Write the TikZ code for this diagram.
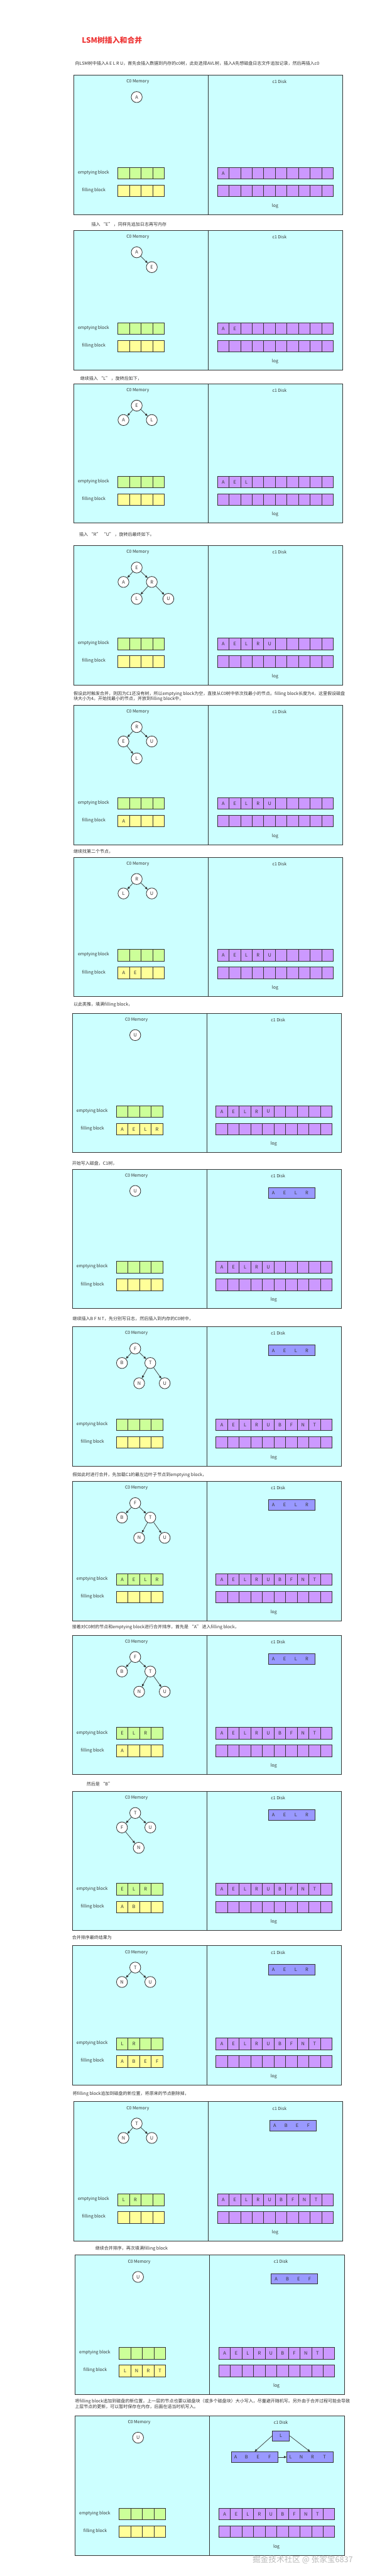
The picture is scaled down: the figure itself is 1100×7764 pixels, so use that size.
\documentclass[tikz,border=0pt]{standalone}
\usepackage{fontspec}
\setmainfont{Noto Sans CJK SC}
\usepackage{tikz}
\usetikzlibrary{arrows.meta,positioning}
\definecolor{panebg}{HTML}{CCFFFF}
\definecolor{emptyc}{HTML}{CCFF99}
\definecolor{fillc}{HTML}{FFFF99}
\definecolor{logc}{HTML}{CC99FF}
\definecolor{diskc}{HTML}{9999FF}
\definecolor{ink}{HTML}{333333}
\definecolor{titlered}{HTML}{EE3333}

% one C0/C1 snapshot: name, x, y, emptying, filling, log
\newcommand{\lsmpanel}[6]{%
  \begin{scope}[shift={(#2,#3)}]
    \node[pane] (#1mem) at (0,0) {};
    \node[pane] (#1disk) at (406,0) {};
    \node[lbl] (#1c0) at (194,20.7) {C0 Memory};
    \node[lbl] (#1c1) at (621.5,20.7) {c1 Disk};
    \node[lbl] (#1el) at (60.3,294.7) {emptying block};
    \node[lbl] (#1fl) at (61.3,347.8) {filling block};
    \node[lbl] (#1ll) at (608.3,394.6) {log};
    \foreach \i in {0,...,3} {
      \node[cell,fill=emptyc] (#1e\i) at (151.5+35*\i,296.6) {};
      \node[cell,fill=fillc] (#1f\i) at (151.5+35*\i,349.7) {};
    }
    \foreach \i in {0,...,9} {
      \node[cell,fill=logc] (#1la\i) at (451.8+35*\i,296.6) {};
      \node[cell,fill=logc] (#1lb\i) at (451.8+35*\i,349.7) {};
    }
    \foreach \ch [count=\i from 0] in {#4} \node[letter] at (#1e\i) {\ch};
    \foreach \ch [count=\i from 0] in {#5} \node[letter] at (#1f\i) {\ch};
    \foreach \ch [count=\i from 0] in {#6} \node[letter] at (#1la\i) {\ch};
  \end{scope}}

% run of four keys written to c1
\newcommand{\sstable}[4]{%
  \begin{scope}[shift={(#2,#3)}]
    \node[blk,minimum width=140pt] (#1) at (662.5,72.3) {};
    \foreach \ch [count=\i from 0] in {#4}
      \node[letter] at (607.5+33.7*\i,72.3) {\ch};
  \end{scope}}

\begin{document}
\begin{tikzpicture}[x=1pt,y=-1pt,
  pane/.style={draw=ink,fill=panebg,line width=1.8pt,anchor=north west,
               minimum width=406pt,minimum height=420pt,inner sep=0pt},
  lbl/.style={text=ink,font=\fontsize{13}{15}\selectfont,inner sep=0pt},
  cell/.style={draw=ink,line width=1.8pt,minimum width=35pt,minimum height=35pt,inner sep=0pt},
  letter/.style={text=ink,font=\fontsize{14}{14}\selectfont,inner sep=0pt},
  blk/.style={draw=ink,fill=diskc,line width=1.8pt,minimum height=32pt,inner sep=0pt},
  vtx/.style={circle,draw=ink,fill=white,line width=1.6pt,minimum size=33pt,
              inner sep=0pt,text=ink,font=\fontsize{14}{14}\selectfont},
  lkid/.style={shift={(-40,43.5)}},
  rkid/.style={shift={(45.5,43.5)}},
  arr/.style={-{Triangle[length=8pt,width=6.5pt]},line width=1.3pt,draw=ink},
  txt/.style={anchor=west,align=left,inner sep=0pt,text=ink,
              font=\fontsize{13.3}{16.2}\selectfont}
]
\fill[white] (0,0) rectangle (1100,7764);
\useasboundingbox (0,0) rectangle (1100,7764);

\node[anchor=west,inner sep=0pt,text=titlered,font=\fontsize{22.5}{24}\selectfont\bfseries] (title) at (247,122) {LSM树插入和合并};

\node[txt] (t1) at (226.6,190.7) {向LSM树中插入A E L R U，首先会插入数据到内存的c0树，此处选择AVL树，插入A先想磁盘日志文件追加记录，然后再插入c0};
\node[txt] (t2) at (275.7,676) {插入 “E” ，同样先追加日志再写内存};
\node[txt] (t3) at (242,1140.4) {继续插入 “L” ，旋转后如下，};
\node[txt] (t4) at (239,1610.4) {插入 “R” “U” ，旋转后最终如下。};
\node[txt] (t5) at (221.7,2099) {假设此时触发合并，则因为C1还没有树，所以emptying block为空，直接从C0树中依次找最小的节点。filling block长度为4，这里假设磁盘\\块大小为4。开始找最小的节点，并放到filling block中，};
\node[txt] (t6) at (221.7,2566) {继续找第二个节点，};
\node[txt] (t7) at (221.7,3027) {以此类推，填满filling block，};
\node[txt] (t8) at (217.5,3506.8) {开始写入磁盘，C1树，};
\node[txt] (t9) at (218.9,3974.7) {继续插入B F N T，先分别写日志，然后插入到内存的C0树中，};
\node[txt] (t10) at (218.9,4446) {假如此时进行合并，先加载C1的最左边叶子节点到emptying block，};
\node[txt] (t11) at (217.5,4905) {接着对C0树的节点和emptying block进行合并排序，首先是 “A” 进入filling block，};
\node[txt] (t12) at (261,5377.9) {然后是 “B”};
\node[txt] (t13) at (217.5,5839.6) {合并排序最终结果为};
\node[txt] (t14) at (218.9,6311.3) {将filling block追加到磁盘的新位置，将原来的节点删除掉，};
\node[txt] (t15) at (287.6,6778) {继续合并排序，再次填满filling block};
\node[txt] (t16) at (225.9,7245) {将filling block追加到磁盘的新位置，上一层的节点也要以磁盘块（或多个磁盘块）大小写入，尽量避开随机写。另外由于合并过程可能会导致\\上层节点的更新，可以暂时保存在内存，后面在适当时机写入。};

\lsmpanel{p1}{221.7}{226}{}{}{A}
\lsmpanel{p2}{221.7}{693.9}{}{}{A,E}
\lsmpanel{p3}{221.7}{1156}{}{}{A,E,L}
\lsmpanel{p4}{221.7}{1644}{}{}{A,E,L,R,U}
\lsmpanel{p5}{221.7}{2124.8}{}{A}{A,E,L,R,U}
\lsmpanel{p6}{221.7}{2582.8}{}{A,E}{A,E,L,R,U}
\lsmpanel{p7}{217.5}{3053.3}{}{A,E,L,R}{A,E,L,R,U}
\lsmpanel{p8}{217.5}{3523}{}{}{A,E,L,R,U}
\lsmpanel{p9}{217.5}{3998}{}{}{A,E,L,R,U,B,F,N,T}
\lsmpanel{p10}{217.5}{4463.9}{A,E,L,R}{}{A,E,L,R,U,B,F,N,T}
\lsmpanel{p11}{217.5}{4927.7}{E,L,R}{A}{A,E,L,R,U,B,F,N,T}
\lsmpanel{p12}{217.5}{5397.8}{E,L,R}{A,B}{A,E,L,R,U,B,F,N,T}
\lsmpanel{p13}{217.5}{5863.6}{L,R}{A,B,E,F}{A,E,L,R,U,B,F,N,T}
\lsmpanel{p14}{221.7}{6333.7}{L,R}{}{A,E,L,R,U,B,F,N,T}
\lsmpanel{p15}{225.9}{6796}{}{L,N,R,T}{A,E,L,R,U,B,F,N,T}
\lsmpanel{p16}{225.9}{7280.5}{}{}{A,E,L,R,U,B,F,N,T}

\sstable{p8s}{217.5}{3523}{A,E,L,R}
\sstable{p9s}{217.5}{3998}{A,E,L,R}
\sstable{p10s}{217.5}{4463.9}{A,E,L,R}
\sstable{p11s}{217.5}{4927.7}{A,E,L,R}
\sstable{p12s}{217.5}{5397.8}{A,E,L,R}
\sstable{p13s}{217.5}{5863.6}{A,E,L,R}
\sstable{p14s}{221.7}{6333.7}{A,B,E,F}
\sstable{p15s}{225.9}{6796}{A,B,E,F}

% C0 trees
\node[vtx] (a1) at (412.5,292.5) {A};

\node[vtx] (a2) at (412.5,760.4) {A};
\node[vtx,shift={(45.5,44.8)}] (e2) at (a2) {E};
\draw[arr] (a2) -- (e2);

\node[vtx] (e3) at (412.5,1222.5) {E};
\node[vtx,lkid] (a3) at (e3) {A};
\node[vtx,rkid] (l3) at (e3) {L};
\draw[arr] (e3) -- (a3);
\draw[arr] (e3) -- (l3);

\node[vtx] (e4) at (412.5,1710.5) {E};
\node[vtx,lkid] (a4) at (e4) {A};
\node[vtx,rkid] (r4) at (e4) {R};
\node[vtx,shift={(-45.5,51)}] (l4) at (r4) {L};
\node[vtx,shift={(50,51)}] (u4) at (r4) {U};
\draw[arr] (e4) -- (a4);
\draw[arr] (e4) -- (r4);
\draw[arr] (r4) -- (l4);
\draw[arr] (r4) -- (u4);

\node[vtx] (r5) at (412.5,2191.3) {R};
\node[vtx,lkid] (e5) at (r5) {E};
\node[vtx,rkid] (u5) at (r5) {U};
\node[vtx,shift={(40,51)}] (l5) at (e5) {L};
\draw[arr] (r5) -- (e5);
\draw[arr] (r5) -- (u5);
\draw[arr] (e5) -- (l5);

\node[vtx] (r6) at (412.5,2649.3) {R};
\node[vtx,lkid] (l6) at (r6) {L};
\node[vtx,rkid] (u6) at (r6) {U};
\draw[arr] (r6) -- (l6);
\draw[arr] (r6) -- (u6);

\node[vtx] (u7) at (408,3119.8) {U};
\node[vtx] (u8) at (408,3589.5) {U};

\foreach \n/\y in {9/4064.5,10/4530.4,11/4994.2} {
  \node[vtx] (f\n) at (408,\y) {F};
  \node[vtx,lkid] (b\n) at (f\n) {B};
  \node[vtx,rkid] (t\n) at (f\n) {T};
  \node[vtx,shift={(-33.7,61)}] (n\n) at (t\n) {N};
  \node[vtx,shift={(43.5,61)}] (u\n) at (t\n) {U};
  \draw[arr] (f\n) -- (b\n);
  \draw[arr] (f\n) -- (t\n);
  \draw[arr] (t\n) -- (n\n);
  \draw[arr] (t\n) -- (u\n);
}

\node[vtx] (t12) at (408,5464.3) {T};
\node[vtx,lkid] (f12) at (t12) {F};
\node[vtx,rkid] (u12) at (t12) {U};
\node[vtx,shift={(50.5,61.4)}] (n12) at (f12) {N};
\draw[arr] (t12) -- (f12);
\draw[arr] (t12) -- (u12);
\draw[arr] (f12) -- (n12);

\node[vtx] (t13) at (408,5930.1) {T};
\node[vtx,lkid] (n13) at (t13) {N};
\node[vtx,rkid] (u13) at (t13) {U};
\draw[arr] (t13) -- (n13);
\draw[arr] (t13) -- (u13);

\node[vtx] (t14) at (412.5,6400.2) {T};
\node[vtx,lkid] (n14) at (t14) {N};
\node[vtx,rkid] (u14) at (t14) {U};
\draw[arr] (t14) -- (n14);
\draw[arr] (t14) -- (u14);

\node[vtx] (u15) at (416.5,6862.5) {U};
\node[vtx] (u16) at (416.5,7347) {U};

% C1 tree after the second merge
\node[blk,minimum width=52pt,minimum height=31pt,font=\fontsize{14}{14}\selectfont,text=ink] (root16) at (847.7,7341.7) {L};
\node[blk,minimum width=140pt,minimum height=31pt] (left16) at (768.1,7405.4) {};
\node[blk,minimum width=140pt,minimum height=31pt] (right16) at (935.9,7405.4) {};
\foreach \ch/\dx in {A/14,B/46.3,E/81.4,F/116.5}
  \node[letter] at ([xshift=\dx pt]left16.west) {\ch};
\foreach \ch/\dx in {L/12,N/44.2,R/77.9,T/114.3}
  \node[letter] at ([xshift=\dx pt]right16.west) {\ch};
\draw[arr] (root16.west) -- (left16.north);
\draw[arr] (root16.east) -- (right16.north);
\draw[arr] (left16.east) -- (right16.west);

\node[anchor=east,inner sep=0pt,text=gray!55,font=\fontsize{24}{26}\selectfont] (mark) at (1065,7715.5) {掘金技术社区 @ 张家宝6837};
\end{tikzpicture}
\end{document}
